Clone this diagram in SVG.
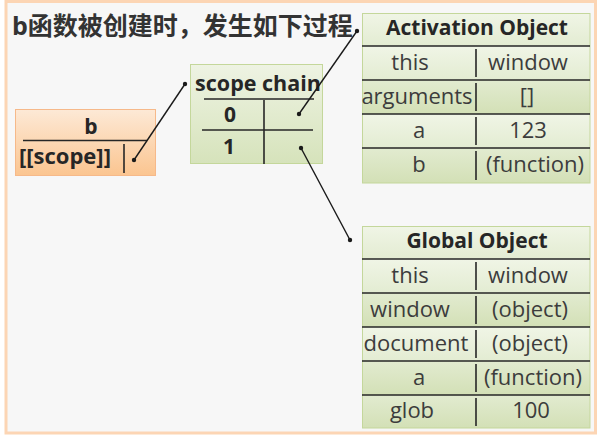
<svg xmlns="http://www.w3.org/2000/svg" width="600" height="438" viewBox="0 0 600 438">
<defs>
<linearGradient id="gOrange" x1="0" y1="0" x2="0" y2="1"><stop offset="0" stop-color="#fde9d6"/><stop offset="1" stop-color="#fbc590"/></linearGradient>
<linearGradient id="gGreen" x1="0" y1="0" x2="0" y2="1"><stop offset="0" stop-color="#eef3e3"/><stop offset="1" stop-color="#d6e3bb"/></linearGradient>
<linearGradient id="gLight" x1="0" y1="0" x2="0" y2="1"><stop offset="0" stop-color="#f0f5e6"/><stop offset="1" stop-color="#e3ecd2"/></linearGradient>
<linearGradient id="gDark" x1="0" y1="0" x2="0" y2="1"><stop offset="0" stop-color="#e2ebd0"/><stop offset="1" stop-color="#d3e0b6"/></linearGradient>
<marker id="dot" markerWidth="6" markerHeight="6" refX="3" refY="3" markerUnits="userSpaceOnUse"><circle cx="3" cy="3" r="2.2" fill="#1a1a1a"/></marker>
</defs>
<style>
.t{font-family:"Open Sans","Noto Sans","DejaVu Sans",sans-serif;fill:#3c3c3c;font-size:22px;text-anchor:middle}
.b{font-family:"Open Sans","Noto Sans","DejaVu Sans",sans-serif;fill:#262626;font-weight:bold;font-size:21px;text-anchor:middle}
.ln{stroke:#262626;stroke-width:1.6;fill:none}
.conn{stroke:#1a1a1a;stroke-width:1.4;fill:none;marker-start:url(#dot);marker-end:url(#dot)}
.tb{stroke:#c4d79b;stroke-width:1}
</style>
<rect x="0" y="0" width="600" height="438" fill="#ffffff"/>
<rect x="6" y="1.5" width="589.5" height="431.5" fill="#f7f7f7" stroke="#fcd5b4" stroke-width="3"/>
<text x="12" y="35" style="font-family:'Open Sans','Noto Sans CJK SC',sans-serif;font-weight:bold;font-size:25px;fill:#333333">b函数被创建时，发生如下过程</text>

<g id="node-b">
<rect x="15.5" y="109.5" width="140" height="66" fill="url(#gOrange)" stroke="#f6b98a" stroke-width="1"/>
<text class="b" x="91" y="134">b</text>
<line class="ln" x1="23" y1="140.5" x2="147" y2="140.5"/>
<text class="b" x="19" y="164" style="text-anchor:start;font-size:22px">[[scope]]</text>
<line class="ln" x1="124" y1="144" x2="124" y2="173"/>
</g>

<g id="node-scope-chain">
<rect x="190.5" y="64.5" width="132" height="99" fill="url(#gGreen)" stroke="#c4d79b" stroke-width="1"/>
<text class="b" x="258" y="91" style="font-size:21.5px">scope chain</text>
<line class="ln" x1="204" y1="99" x2="314" y2="99"/>
<text class="b" x="230" y="122">0</text>
<line class="ln" x1="202" y1="130" x2="313" y2="130"/>
<text class="b" x="229" y="154">1</text>
<line class="ln" x1="264" y1="100" x2="264" y2="164"/>
</g>

<g id="node-activation-object">
<rect x="362" y="13" width="228" height="33" fill="url(#gLight)"/>
<rect x="362" y="46" width="228" height="34" fill="url(#gLight)"/>
<rect x="362" y="80" width="228" height="34" fill="url(#gDark)"/>
<rect x="362" y="114" width="228" height="34" fill="url(#gLight)"/>
<rect x="362" y="148" width="228" height="35" fill="url(#gDark)"/>
<rect class="tb" x="362.5" y="13.5" width="227.5" height="169.5" fill="none"/>
<line class="ln" x1="362" y1="46" x2="590" y2="46"/>
<line class="ln" x1="362" y1="80" x2="590" y2="80"/>
<line class="ln" x1="362" y1="114" x2="590" y2="114"/>
<line class="ln" x1="362" y1="148" x2="590" y2="148"/>
<line class="ln" x1="476" y1="49" x2="476" y2="77"/>
<line class="ln" x1="476" y1="83" x2="476" y2="111"/>
<line class="ln" x1="476" y1="117" x2="476" y2="145"/>
<line class="ln" x1="476" y1="151" x2="476" y2="180"/>
<text class="b" x="477" y="35">Activation Object</text>
<text class="t" x="410" y="70">this</text>
<text class="t" x="528" y="70">window</text>
<text class="t" x="417" y="104">arguments</text>
<text class="t" x="527" y="104">[]</text>
<text class="t" x="419" y="138">a</text>
<text class="t" x="528" y="138">123</text>
<text class="t" x="419" y="172">b</text>
<text class="t" x="535" y="172">(function)</text>
</g>

<g id="node-global-object">
<rect x="362" y="226" width="228" height="33" fill="url(#gLight)"/>
<rect x="362" y="259" width="228" height="34" fill="url(#gLight)"/>
<rect x="362" y="293" width="228" height="34" fill="url(#gDark)"/>
<rect x="362" y="327" width="228" height="34" fill="url(#gLight)"/>
<rect x="362" y="361" width="228" height="34" fill="url(#gDark)"/>
<rect x="362" y="395" width="228" height="33" fill="url(#gDark)"/>
<rect class="tb" x="362.5" y="226.5" width="227.5" height="201.5" fill="none"/>
<line class="ln" x1="362" y1="259" x2="590" y2="259"/>
<line class="ln" x1="362" y1="293" x2="590" y2="293"/>
<line class="ln" x1="362" y1="327" x2="590" y2="327"/>
<line class="ln" x1="362" y1="361" x2="590" y2="361"/>
<line class="ln" x1="362" y1="395" x2="590" y2="395"/>
<line class="ln" x1="476" y1="262" x2="476" y2="290"/>
<line class="ln" x1="476" y1="296" x2="476" y2="324"/>
<line class="ln" x1="476" y1="330" x2="476" y2="358"/>
<line class="ln" x1="476" y1="364" x2="476" y2="392"/>
<line class="ln" x1="476" y1="398" x2="476" y2="426"/>
<text class="b" x="477" y="248">Global Object</text>
<text class="t" x="410" y="283">this</text>
<text class="t" x="528" y="283">window</text>
<text class="t" x="410" y="317">window</text>
<text class="t" x="530" y="317">(object)</text>
<text class="t" x="416" y="351">document</text>
<text class="t" x="530" y="351">(object)</text>
<text class="t" x="419" y="385">a</text>
<text class="t" x="533" y="385">(function)</text>
<text class="t" x="412" y="418">glob</text>
<text class="t" x="531" y="418">100</text>
</g>

<g id="connectors">
<line class="conn" x1="134" y1="160" x2="185" y2="84"/>
<line class="conn" x1="299" y1="114" x2="357" y2="31"/>
<line class="conn" x1="301" y1="148" x2="350" y2="240"/>
</g>
</svg>
